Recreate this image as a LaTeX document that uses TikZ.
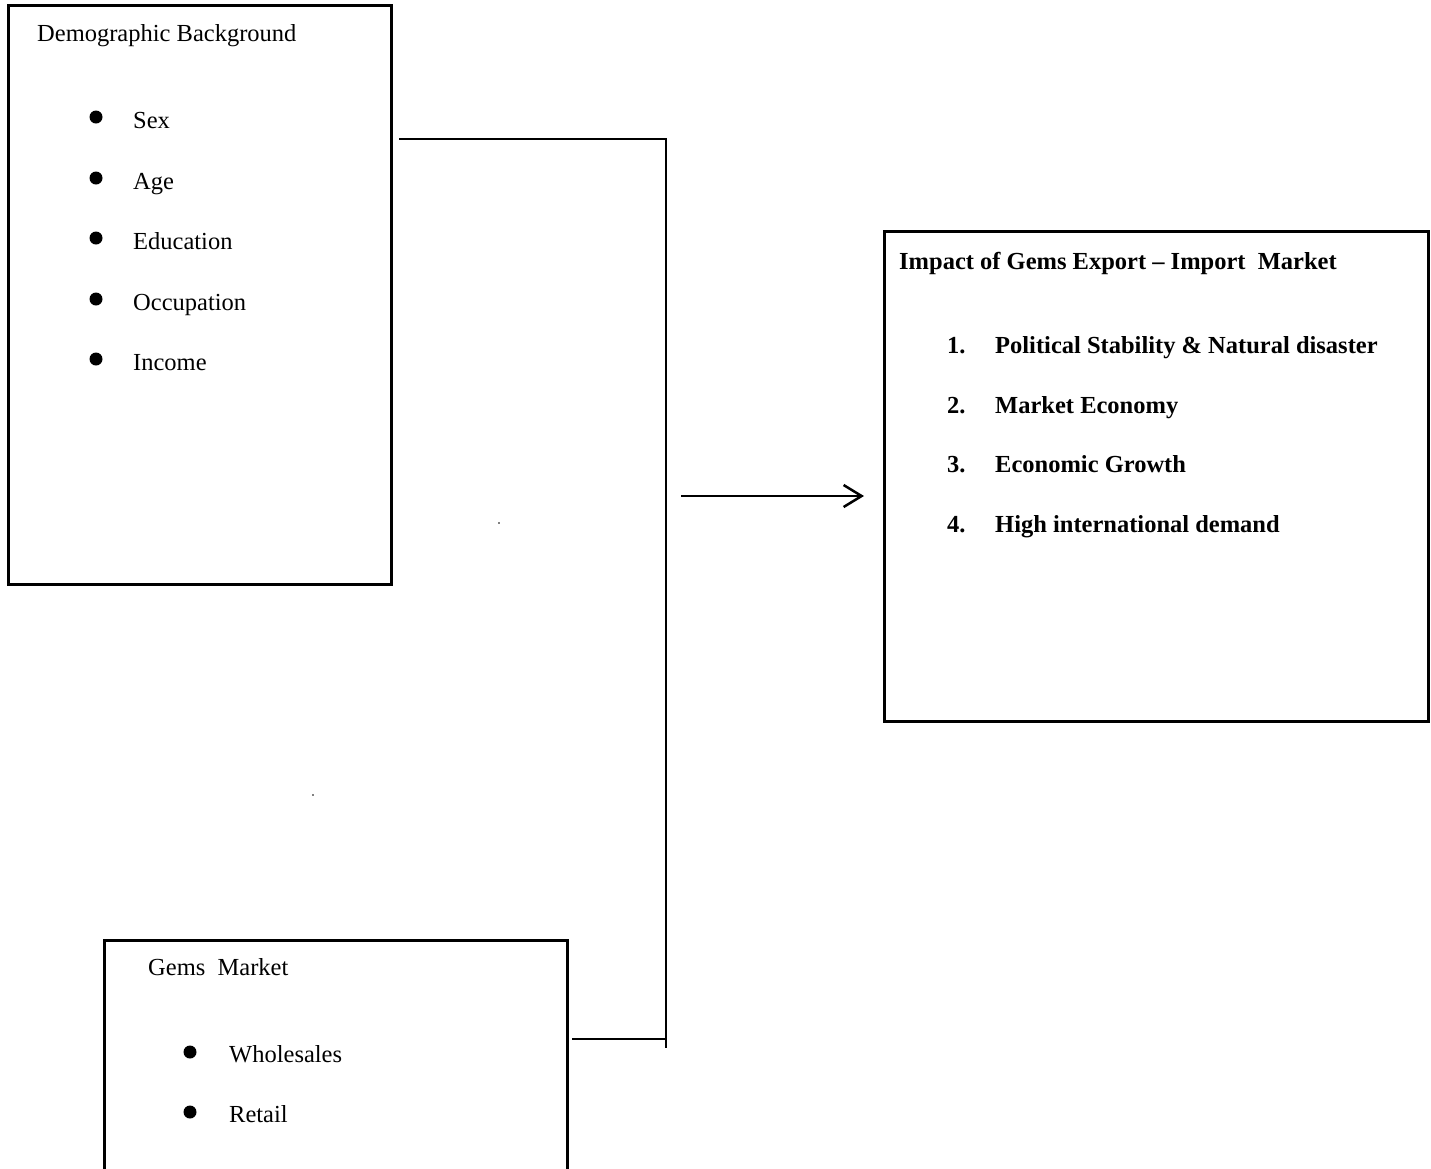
\documentclass[tikz,border=0pt]{standalone}
\usepackage{fontspec}
\setmainfont{Liberation Serif}
\usetikzlibrary{arrows.meta}
\begin{document}
\begin{tikzpicture}[x=1pt,y=-1pt,
  font=\fontsize{24.5}{29}\selectfont,
  box/.style={draw, line width=2.5pt, anchor=north west, inner sep=0pt},
  txt/.style={anchor=base west, inner sep=0pt},
  bul/.style={circle, fill, inner sep=0pt, minimum size=13pt},
  link/.style={line width=2pt},
  speck/.style={circle, fill, inner sep=0pt, minimum size=1.6pt}]
\useasboundingbox (0,0) rectangle (1431,1168);
\clip (0,0) rectangle (1431,1168);
% boxes
\node[box, minimum width=383pt, minimum height=579pt] (demo) at (7,4) {};
\node[box, minimum width=544pt, minimum height=490pt] (impact) at (883,230) {};
\node[box, minimum width=463pt, minimum height=260pt] (gems) at (103,939) {};
% box 1 text
\node[txt] (dtitle) at (37,41) {Demographic Background};
\foreach \i/\t/\y in {1/Sex/128,2/Age/189,3/Education/249,4/Occupation/310,5/Income/370}{
  \node[bul] (db\i) at (96,\y-11) {};
  \node[txt] (dt\i) at (133,\y) {\t};
}
% box 2 text
\node[txt, font=\fontsize{24.5}{29}\selectfont\bfseries] (ititle) at (899,269) {Impact of Gems Export -- Import\ \ Market};
\foreach \i/\t/\y in {1/Political Stability \& Natural disaster/353,2/Market Economy/413,3/Economic Growth/472,4/High international demand/532}{
  \node[txt, font=\fontsize{24.5}{29}\selectfont\bfseries] (in\i) at (947,\y) {\i.};
  \node[txt, font=\fontsize{24.5}{29}\selectfont\bfseries] (it\i) at (995,\y) {\t};
}
% box 3 text
\node[txt] (gtitle) at (148,975) {Gems\ \ Market};
\foreach \i/\t/\y in {1/Wholesales/1062,2/Retail/1122}{
  \node[bul] (gb\i) at (190,\y-10) {};
  \node[txt] (gt\i) at (229,\y) {\t};
}
% connectors
\coordinate (j1) at (399,139);
\coordinate (j2) at (665.5,139);
\coordinate (j3) at (665.5,1048);
\coordinate (j4) at (572,1039);
\coordinate (j5) at (665.5,1039);
\draw[link] (j1) -- (j2) -- (j3);
\draw[link] (j4) -- (j5);
\coordinate (a1) at (681,496);
\coordinate (a2) at (864,496);
\draw[link, line width=2.5pt, -{Straight Barb[length=18pt,width=22pt,line width=2.5pt]}] (a1) -- (a2);
% stray specks
\node[speck] (s1) at (499,523) {};
\node[speck] (s2) at (313,795) {};
\end{tikzpicture}
\end{document}
